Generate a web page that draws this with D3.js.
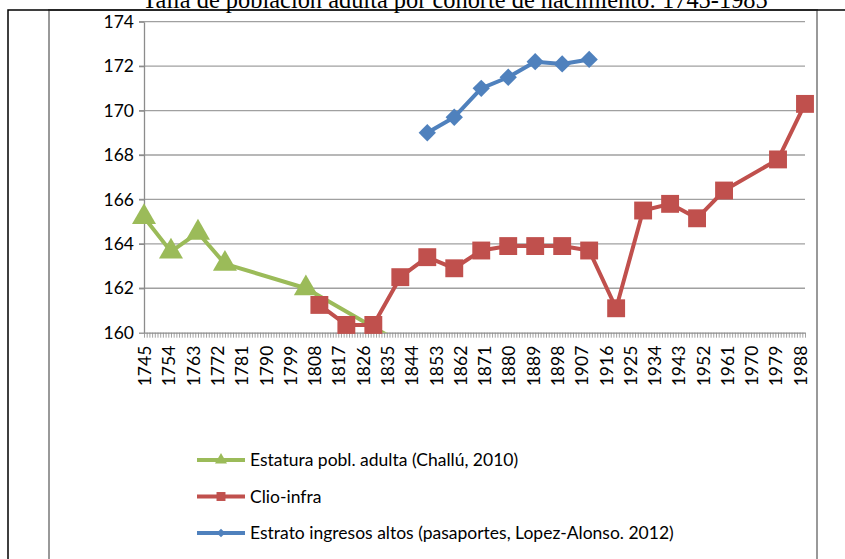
<!DOCTYPE html>
<html>
<head>
<meta charset="utf-8">
<script src="https://cdn.jsdelivr.net/npm/d3@7"></script>
<style>
	body { margin: 0; background: #fff; }
	svg { display: block; }
	.axis text { font-family: Lato, "Open Sans", sans-serif; font-size: 17.5px; fill: #000; }
	.axis path, .axis line { stroke: #8c8c8c; }
</style>
</head>
<body>
<div id="chart"></div>
<script>
// categories on the x axis
const firstYear = 1745;
const lastYear = 1990;
const tickYears = [1745, 1754, 1763, 1772, 1781, 1790, 1799, 1808, 1817, 1826, 1835, 1844, 1853, 1862,
	1871, 1880, 1889, 1898, 1907, 1916, 1925, 1934, 1943, 1952, 1961, 1970, 1979, 1988];
const yTicks = [160, 162, 164, 166, 168, 170, 172, 174];

// Estatura pobl. adulta (Challú, 2010)
const challuYears = [1745, 1755, 1765, 1775, 1805, 1835];
const challuValues = [165.2, 163.65, 164.5, 163.1, 162.0, 159.9];

// Clio-infra
const clioYears = [1810, 1820, 1830, 1840, 1850, 1860, 1870, 1880, 1890, 1900, 1910, 1920, 1930, 1940, 1950, 1960, 1980, 1990];
const clioValues = [161.25, 160.35, 160.35, 162.5, 163.4, 162.9, 163.7, 163.9, 163.9, 163.9, 163.7, 161.1, 165.5, 165.8, 165.15, 166.4, 167.8, 170.3];

// Estrato ingresos altos (pasaportes)
const lopezYears = [1850, 1860, 1870, 1880, 1890, 1900, 1910];
const lopezValues = [169.0, 169.7, 171.0, 171.5, 172.2, 172.1, 172.3];

const title = "Talla de población adulta por cohorte de nacimiento: 1745-1985";

// excel diamonds are squares turned 45 degrees
const series = [
	{name: "Estatura pobl. adulta (Challú, 2010)", years: challuYears, values: challuValues, color: "#9bbb59", marker: d3.symbolTriangle, size: 250, rot: 0},
	{name: "Clio-infra", years: clioYears, values: clioValues, color: "#c0504d", marker: d3.symbolSquare, size: 320, rot: 0},
	{name: "Estrato ingresos altos (pasaportes, Lopez-Alonso. 2012)", years: lopezYears, values: lopezValues, color: "#4f81bd", marker: d3.symbolSquare, size: 150, rot: 45}
];

const width = 845, height = 559;
const plot = {left: 144, right: 805, top: 21.7, bottom: 332.7};

const svg = d3.select("#chart").append("svg")
	.attr("width", width)
	.attr("height", height);

// page frame
svg.append("rect")
	.attr("x", 49).attr("y", 10)
	.attr("width", 768).attr("height", 600)
	.attr("fill", "none")
	.attr("stroke", "#999")
	.attr("stroke-width", 2);
svg.append("path")
	.attr("d", `M8,${height} L8,10 L${width},10`)
	.attr("fill", "none")
	.attr("stroke", "#000")
	.attr("stroke-width", 1.5);

svg.append("text")
	.text(title)
	.attr("x", 455)
	.attr("y", 8)
	.attr("text-anchor", "middle")
	.style("font-family", "'Liberation Serif', 'Times New Roman', serif")
	.style("font-size", "24.4px");

let x = d3.scaleLinear()
	.domain([firstYear, lastYear])
	.range([plot.left, plot.right]);
let y = d3.scaleLinear()
	.domain([yTicks[0], yTicks[yTicks.length - 1]])
	.range([plot.bottom, plot.top]);

// gridlines
svg.append("g")
	.selectAll("line")
	.data(yTicks.slice(1))
	.join("line")
	.attr("x1", plot.left - 5)
	.attr("x2", plot.right)
	.attr("y1", d => y(d))
	.attr("y2", d => y(d))
	.attr("stroke", "#a0a0a0")
	.attr("stroke-width", 1.3);

let yAxis = d3.axisLeft(y)
	.tickValues(yTicks)
	.tickSize(5)
	.tickPadding(5)
	.tickSizeOuter(0);
svg.append("g")
	.attr("class", "axis")
	.attr("transform", `translate(${plot.left},0)`)
	.call(yAxis)
	.call(g => g.selectAll("path, line").attr("stroke-width", 1.3));

// one small tick per year, a label every 9 years
let allYears = d3.range(firstYear, lastYear + 1);
let xAxis = d3.axisBottom(x)
	.tickValues(allYears)
	.tickSize(5)
	.tickSizeOuter(0)
	.tickFormat(d => tickYears.includes(d) ? d : "");
svg.append("g")
	.attr("class", "axis")
	.attr("transform", `translate(0,${plot.bottom})`)
	.call(xAxis)
	.call(g => g.select(".domain").attr("stroke-width", 1.3))
	.call(g => g.selectAll(".tick line").attr("stroke-width", 0.8))
	.selectAll("text")
	.attr("transform", "rotate(-90)")
	.attr("text-anchor", "end")
	.attr("x", -13)
	.attr("y", 0)
	.attr("dy", "0.38em");

svg.append("clipPath")
	.attr("id", "plot-clip")
	.append("rect")
	.attr("x", plot.left)
	.attr("y", plot.top - 20)
	.attr("width", plot.right - plot.left + 20)
	.attr("height", plot.bottom - plot.top + 20);

let line = d3.line()
	.x(d => x(d[0]))
	.y(d => y(d[1]));

series.forEach(s => {
	let pts = s.years.map((yr, i) => [yr, s.values[i]]);
	let g = svg.append("g");
	g.append("path")
		.datum(pts)
		.attr("d", line)
		.attr("fill", "none")
		.attr("stroke", s.color)
		.attr("stroke-width", 4)
		.attr("stroke-linejoin", "round")
		.attr("clip-path", "url(#plot-clip)");
	// markers below the axis minimum are hidden, like in the original
	g.selectAll("path.marker")
		.data(pts.filter(d => d[1] >= yTicks[0]))
		.join("path")
		.attr("class", "marker")
		.attr("d", d3.symbol().type(s.marker).size(s.size))
		.attr("transform", d => `translate(${x(d[0])},${y(d[1])}) rotate(${s.rot})`)
		.attr("fill", s.color);
});

// legend
let legend = svg.append("g")
	.selectAll("g")
	.data(series)
	.join("g")
	.attr("transform", (d, i) => `translate(197,${460 + i * 36.5})`);
legend.append("line")
	.attr("x1", 0).attr("x2", 48)
	.attr("stroke", d => d.color)
	.attr("stroke-width", 4);
legend.append("path")
	.attr("d", d => d3.symbol().type(d.marker).size(d.size / 4)())
	.attr("transform", d => `translate(24,0) rotate(${d.rot})`)
	.attr("fill", d => d.color);
legend.append("text")
	.text(d => d.name)
	.attr("x", 53)
	.attr("dy", "0.36em")
	.style("font-family", "Lato, 'Open Sans', sans-serif")
	.style("font-size", "17.5px");
</script>
</body>
</html>
